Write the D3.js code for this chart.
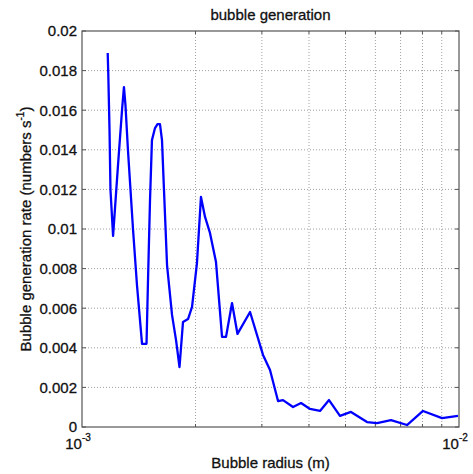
<!DOCTYPE html>
<html>
<head>
<meta charset="utf-8">
<script src="https://cdn.jsdelivr.net/npm/d3@7"></script>
<style>
  html, body { margin: 0; padding: 0; background: #fff; }
  svg { display: block; }
  text { font-family: "Liberation Sans", Arial, Helvetica, sans-serif; fill: #111; stroke: #111; stroke-width: 0.3px; }
</style>
</head>
<body>
<svg id="chart" width="473" height="474"></svg>
<script>
// Bubble radius (m)
const radius = [
  1.170e-3, 1.174e-3, 1.183e-3, 1.190e-3, 1.209e-3, 1.246e-3, 1.277e-3, 1.292e-3,
  1.304e-3, 1.324e-3, 1.366e-3, 1.399e-3, 1.425e-3, 1.443e-3, 1.483e-3, 1.496e-3,
  1.515e-3, 1.533e-3, 1.562e-3, 1.586e-3, 1.610e-3, 1.630e-3, 1.650e-3, 1.681e-3,
  1.733e-3, 1.776e-3, 1.814e-3, 1.853e-3, 1.911e-3, 1.958e-3, 2.018e-3, 2.068e-3,
  2.120e-3, 2.185e-3, 2.267e-3, 2.352e-3, 2.410e-3, 2.500e-3, 2.585e-3, 2.791e-3,
  3.021e-3, 3.153e-3, 3.311e-3, 3.413e-3, 3.629e-3, 3.810e-3, 4.026e-3, 4.279e-3,
  4.521e-3, 4.834e-3, 5.170e-3, 5.702e-3, 6.060e-3, 6.601e-3, 7.279e-3, 8.026e-3,
  9.014e-3, 9.939e-3
];
// Bubble generation rate (numbers s^-1)
const rate = [
  0.01889, 0.01788, 0.01500, 0.01197, 0.00965, 0.01323, 0.01601, 0.01717,
  0.01626, 0.01399, 0.00995, 0.00717, 0.00540, 0.00420, 0.00420, 0.00727,
  0.01146, 0.01449, 0.01510, 0.01530, 0.01530, 0.01449, 0.01197, 0.00818,
  0.00566, 0.00439, 0.00303, 0.00530, 0.00545, 0.00606, 0.00828, 0.01162,
  0.01061, 0.00980, 0.00833, 0.00455, 0.00455, 0.00626, 0.00470, 0.00581,
  0.00364, 0.00288, 0.00131, 0.00136, 0.00101, 0.00121, 0.00091, 0.00081,
  0.00136, 0.00056, 0.00076, 0.00025, 0.00020, 0.00035, 0.00010, 0.00081,
  0.00045, 0.00056
];

const yTicks = [0, 0.002, 0.004, 0.006, 0.008, 0.01, 0.012, 0.014, 0.016, 0.018, 0.02];
const yTickLabels = ["0", "0.002", "0.004", "0.006", "0.008", "0.01", "0.012", "0.014", "0.016", "0.018", "0.02"];
const xMajorTicks = [1e-3, 1e-2];
const xMajorExponents = ["-3", "-2"];
const xMinorTicks = [2e-3, 3e-3, 4e-3, 5e-3, 6e-3, 7e-3, 8e-3, 9e-3];

const titleText = "bubble generation";
const xLabelText = "Bubble radius (m)";

const svg = d3.select("#chart");
const margin = { left: 82, top: 31, right: 14, bottom: 47 };
const W = 473, H = 474;
const x0 = margin.left, x1 = W - margin.right;
const y0 = margin.top, y1 = H - margin.bottom;

const x = d3.scaleLog().domain([1e-3, 1e-2]).range([x0, x1]);
const y = d3.scaleLinear().domain([0, 0.02]).range([y1, y0]);

const axisColor = "#555";
const gridColor = "#a0a0a0";
const fontSize = 15;

// grid lines (dotted)
const grid = svg.append("g");
grid.selectAll("line.vx")
  .data(xMinorTicks)
  .join("line")
  .attr("x1", d => x(d)).attr("x2", d => x(d))
  .attr("y1", y0).attr("y2", y1)
  .attr("stroke", gridColor).attr("stroke-width", 1)
  .attr("stroke-dasharray", "1,2");
grid.selectAll("line.hy")
  .data(yTicks.slice(1, -1))
  .join("line")
  .attr("y1", d => y(d)).attr("y2", d => y(d))
  .attr("x1", x0).attr("x2", x1)
  .attr("stroke", gridColor).attr("stroke-width", 1)
  .attr("stroke-dasharray", "1,2");

// data line
const line = d3.line()
  .x((d, i) => x(radius[i]))
  .y(d => y(d));
svg.append("path")
  .attr("d", line(rate))
  .attr("fill", "none")
  .attr("stroke", "#0000ff")
  .attr("stroke-width", 2.3)
  .attr("stroke-linejoin", "round");

// axes box
svg.append("rect")
  .attr("x", x0).attr("y", y0)
  .attr("width", x1 - x0).attr("height", y1 - y0)
  .attr("fill", "none").attr("stroke", axisColor).attr("stroke-width", 1.2);

// inward ticks
const tickLen = 4;
const ticks = svg.append("g").attr("stroke", axisColor).attr("stroke-width", 1);
yTicks.forEach(v => {
  ticks.append("line").attr("x1", x0).attr("x2", x0 + tickLen).attr("y1", y(v)).attr("y2", y(v));
  ticks.append("line").attr("x1", x1).attr("x2", x1 - tickLen).attr("y1", y(v)).attr("y2", y(v));
});
xMinorTicks.forEach(v => {
  ticks.append("line").attr("x1", x(v)).attr("x2", x(v)).attr("y1", y1).attr("y2", y1 - 3);
  ticks.append("line").attr("x1", x(v)).attr("x2", x(v)).attr("y1", y0).attr("y2", y0 + 3);
});

// y tick labels
svg.append("g").selectAll("text")
  .data(yTicks)
  .join("text")
  .attr("x", x0 - 5)
  .attr("y", d => y(d))
  .attr("dy", "0.36em")
  .attr("text-anchor", "end")
  .attr("font-size", fontSize)
  .text((d, i) => yTickLabels[i]);

// x tick labels: 10 with superscript exponent
xMajorTicks.forEach((v, i) => {
  const t = svg.append("text")
    .attr("x", x(v) - 4)
    .attr("y", y1 + 22)
    .attr("text-anchor", "middle")
    .attr("font-size", fontSize);
  t.append("tspan").text("10");
  t.append("tspan")
    .attr("font-size", 10)
    .attr("dy", -8)
    .text(xMajorExponents[i]);
});

// title
svg.append("text")
  .attr("x", (x0 + x1) / 2)
  .attr("y", 20)
  .attr("text-anchor", "middle")
  .attr("font-size", fontSize)
  .text(titleText);

// x label
svg.append("text")
  .attr("x", (x0 + x1) / 2)
  .attr("y", 468)
  .attr("text-anchor", "middle")
  .attr("font-size", fontSize)
  .text(xLabelText);

// y label
const yl = svg.append("text")
  .attr("transform", `translate(31, ${(y0 + y1) / 2}) rotate(-90)`)
  .attr("text-anchor", "middle")
  .attr("font-size", fontSize);
yl.append("tspan").text("Bubble generation rate (numbers s");
yl.append("tspan").attr("font-size", 10).attr("dy", -7).text("-1");
yl.append("tspan").attr("dy", 7).text(")");
</script>
</body>
</html>
